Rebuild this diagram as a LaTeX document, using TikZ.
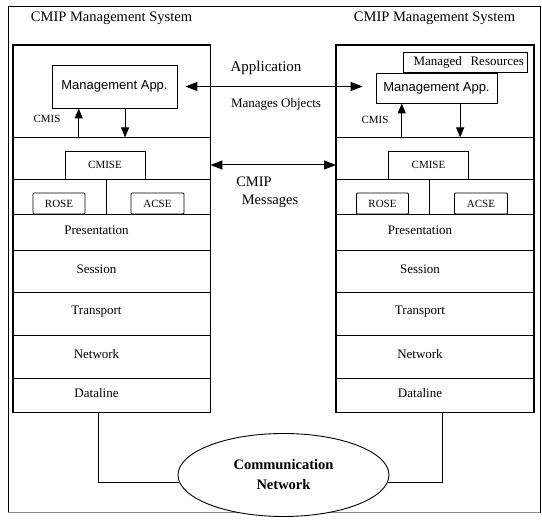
\documentclass[tikz,border=0pt]{standalone}
\usepackage{fontspec}
\setmainfont{Liberation Serif}
\newfontfamily\appfont{Liberation Sans}
\usetikzlibrary{arrows.meta,shapes.geometric,calc}

\begin{document}
\begin{tikzpicture}[x=1pt,y=-1pt,
  every node/.style={inner sep=0pt},
  thinline/.style={line width=0.9pt},
  layer/.style={draw, line width=0.9pt, minimum width=197pt},
  lbl/.style={font=\fontsize{13}{15}\selectfont, xshift=-15pt, yshift=2pt},
  sbox/.style={draw, line width=0.9pt, font=\fontsize{11}{13}\selectfont},
  appbox/.style={draw, line width=0.9pt, font=\appfont\fontsize{13}{15}\selectfont},
  arr/.style={line width=1pt, -{Triangle[length=10pt,width=8pt]}},
  darr/.style={line width=1pt, {Triangle[length=12pt,width=9pt]}-{Triangle[length=12pt,width=9pt]}},
  hdr/.style={font=\fontsize{14.5}{17}\selectfont},
]
\useasboundingbox (0,0) rectangle (542,521);

% outer frame
\draw[line width=1pt] (8,513) -- (8,7) -- (540,7) -- (540,513);
\draw[line width=1pt, black!45] (8,513) -- (540,513);

% headers
\node[hdr] (Lhead) at (111.5,18) {CMIP Management System};
\node[hdr] (Rhead) at (434.5,18) {CMIP Management System};

% the two protocol stacks
\foreach \side/\sx in {L/13, R/336.5} {
  \begin{scope}[shift={(\sx,0)}, name prefix=\side-]
    \node[layer, minimum height=92pt] (app) at (98.5,91) {};
    \node[layer, minimum height=42pt] (cmz) at (98.5,158) {};
    \node[draw, line width=0.9pt, minimum width=93pt, minimum height=35pt] (rz) at (46.5,196.5) {};
    \node[draw, line width=0.9pt, minimum width=104pt, minimum height=35pt] (az) at (145,196.5) {};
    \node[layer, minimum height=36pt, label={[lbl]center:Presentation}] (pres) at (98.5,232) {};
    \node[layer, minimum height=42pt, label={[lbl]center:Session}] (sess) at (98.5,271) {};
    \node[layer, minimum height=43pt, label={[lbl]center:Transport}] (trans) at (98.5,313.5) {};
    \node[layer, minimum height=43pt, label={[lbl]center:Network}] (netw) at (98.5,356.5) {};
    \node[layer, minimum height=34pt, label={[lbl]center:Dataline}] (dl) at (98.5,395) {};
    \node[sbox, minimum width=80pt, minimum height=28pt] (cmise) at (92,165) {CMISE};
    \node[sbox, minimum width=52pt, minimum height=21pt, rounded corners=1pt] (rose) at (46,203.5) {ROSE};
    \node[sbox, minimum width=53pt, minimum height=21pt, rounded corners=1pt] (acse) at (144.5,203.5) {ACSE};
  \end{scope}
}
\draw[line width=1.4pt] (L-app.north west) rectangle (L-dl.south east);
\draw[line width=1.4pt] (R-app.north west) rectangle (R-dl.south east);

% application boxes
\node[appbox, minimum width=125pt, minimum height=43pt] (Lmgmt) at (114.5,86.5) {Management App.};
\node[draw, line width=0.9pt, minimum height=20pt, text width=118pt, inner xsep=3pt,
      align=right, font=\fontsize{13}{15}\selectfont] (Rres) at (465,62) {Managed~~Resources};
\node[appbox, minimum width=121pt, minimum height=30pt] (Rmgmt) at (436.5,88) {Management App.};

% CMIS service arrows
\coordinate (Lcu) at ($(Lmgmt.south west)!0.216!(Lmgmt.south east)$);
\coordinate (Lcd) at ($(Lmgmt.south west)!0.584!(Lmgmt.south east)$);
\coordinate (Rcu) at ($(Rmgmt.south west)!0.215!(Rmgmt.south east)$);
\coordinate (Rcd) at ($(Rmgmt.south west)!0.694!(Rmgmt.south east)$);
\draw[arr] (Lcu |- L-app.south) -- (Lcu);
\draw[arr] (Lcd) -- (Lcd |- L-app.south);
\draw[arr] (Rcu |- R-app.south) -- (Rcu);
\draw[arr] (Rcd) -- (Rcd |- R-app.south);
\node[font=\fontsize{11}{13}\selectfont] (Lcmis) at (47,119) {CMIS};
\node[font=\fontsize{11}{13}\selectfont] (Rcmis) at (375,120) {CMIS};

% peer exchanges
\draw[darr, shorten <=8pt, shorten >=13pt] (Lmgmt.east) -- (Lmgmt.east -| Rmgmt.west);
\node[font=\fontsize{15}{17}\selectfont] (apptxt) at (266,68) {Application};
\node[font=\fontsize{13}{15}\selectfont] (motxt) at (276,104) {Manages Objects};
\draw[darr] ([yshift=-7pt]L-cmz.east) -- ([yshift=-7pt]R-cmz.west);
\node[hdr] (cmiptxt) at (254,182) {CMIP};
\node[hdr] (msgtxt) at (270,201) {Messages};

% communication network
\node[draw, ellipse, line width=0.9pt, fill=white, minimum width=211pt, minimum height=83pt,
      align=center, font=\bfseries\fontsize{14.5}{20}\selectfont] (comm) at (283.5,475) {Communication\\Network};
\coordinate (Lt) at ($(L-dl.south west)!0.435!(L-dl.south east)$);
\coordinate (Rt) at ($(R-dl.south west)!0.540!(R-dl.south east)$);
\draw[thinline] (Lt) |- (comm.184);
\draw[thinline] (Rt) |- (comm.356);
\end{tikzpicture}
\end{document}
